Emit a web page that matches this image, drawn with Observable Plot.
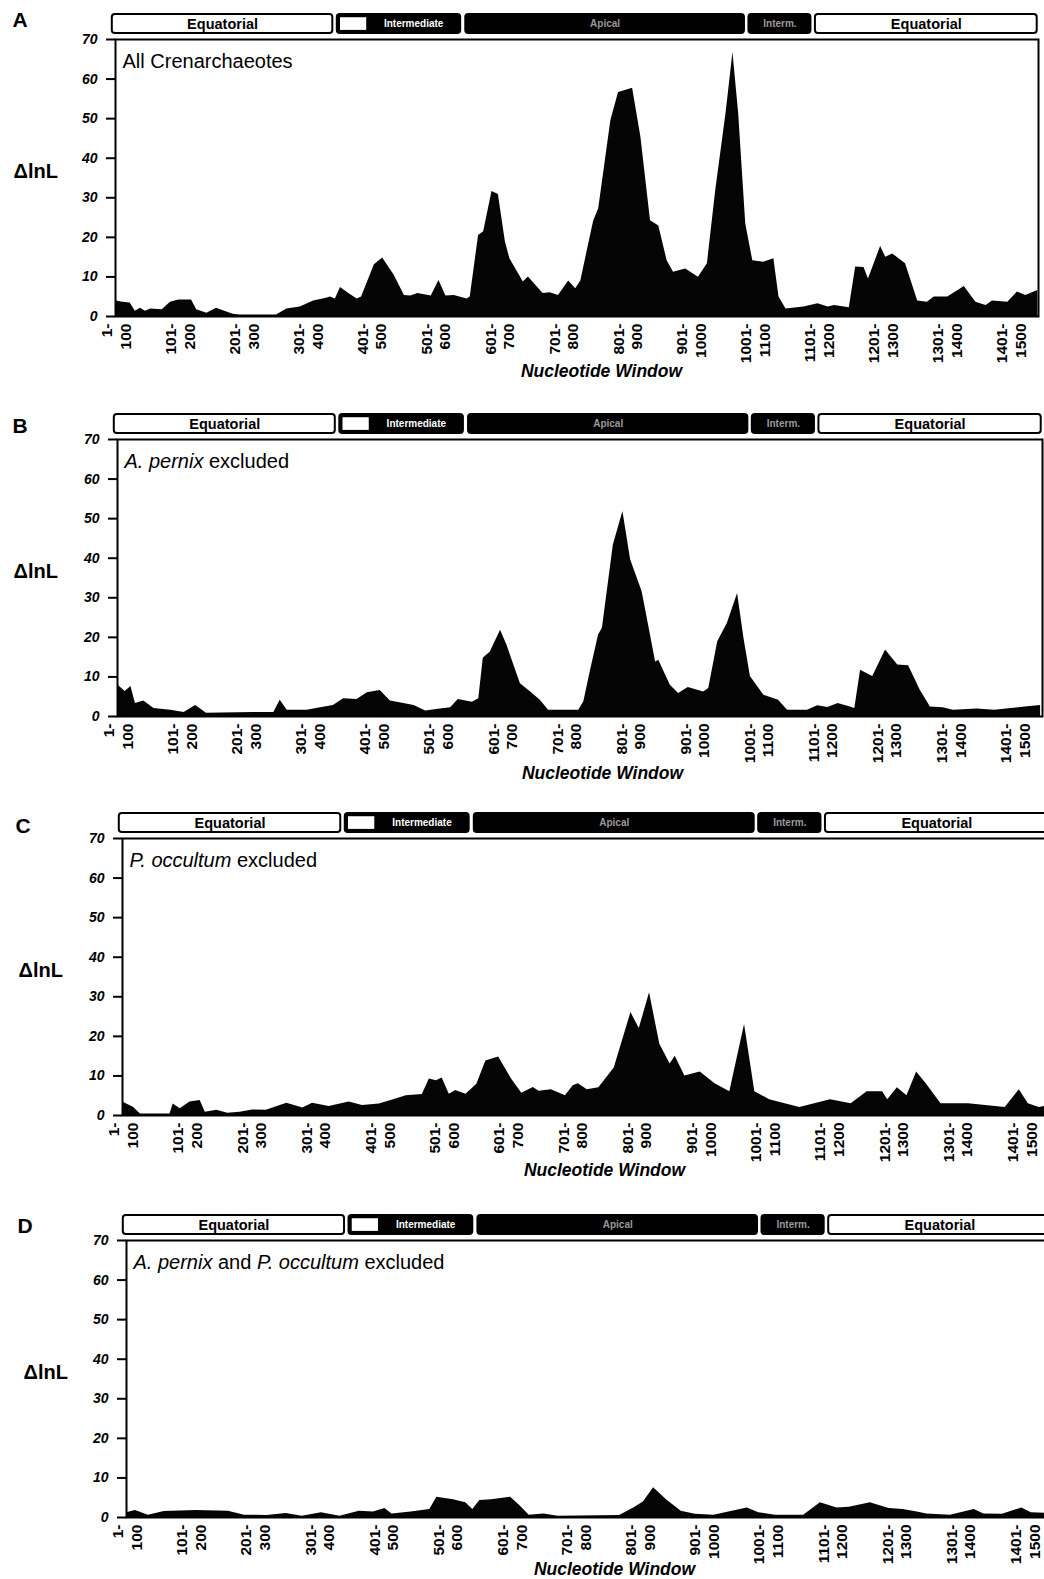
<!DOCTYPE html>
<html><head><meta charset="utf-8">
<script src="https://cdn.jsdelivr.net/npm/d3@7"></script>
<script src="https://cdn.jsdelivr.net/npm/@observablehq/plot@0.6"></script>
<style>
html,body{margin:0;padding:0;background:#fff;overflow:hidden;}
#fig{position:relative;width:1044px;height:1579px;overflow:hidden;background:#fff;}
#fig svg{position:absolute;left:0;overflow:visible;max-width:none !important;}
#fig g[aria-label="y-axis tick label"] text{font-style:italic;}
</style></head><body><div id="fig"></div>
<script>
// ---- data (window start nucleotide, ΔlnL) ----
const ntA = [1,12,24,32,40,48,56,74,87,100,120,128,144,159,185,196,253,269,290,311,331,337,345,353,366,379,386,406,419,437,453,463,474,495,507,518,531,551,556,569,577,590,600,611,618,639,647,670,681,694,710,721,729,749,757,776,788,810,823,838,851,864,874,893,913,927,940,956,967,976,987,998,1015,1031,1039,1050,1078,1100,1116,1126,1149,1159,1172,1179,1198,1206,1217,1237,1256,1271,1282,1303,1329,1347,1363,1373,1397,1412,1425,1444];
const dlnlA = [4.0,3.6,3.4,1.3,2.1,1.3,1.9,1.7,3.6,4.2,4.2,1.7,0.8,2.1,0.6,0.4,0.4,1.9,2.4,3.9,4.6,4.9,4.4,7.3,5.8,4.4,4.9,13.1,14.8,10.4,5.3,5.2,5.8,5.2,9.1,5.2,5.3,4.4,4.9,20.5,21.4,31.6,30.8,18.8,14.6,8.7,10.0,5.8,6.0,5.3,9.0,7.0,9.0,24.1,27.2,49.5,56.6,57.7,45.3,24.2,22.9,14.1,11.2,12.0,9.9,13.3,31.8,51.1,66.7,51.1,23.4,14.1,13.7,14.6,4.9,1.9,2.4,3.2,2.4,2.8,2.2,12.5,12.4,9.5,17.7,15.0,15.8,13.3,3.9,3.6,4.9,4.9,7.6,3.6,2.8,3.9,3.6,6.2,5.3,6.6];

const ntB = [1,13,22,29,42,58,84,105,123,140,213,245,255,266,297,318,338,354,375,391,411,427,448,464,482,505,521,533,555,565,572,583,599,609,630,646,661,674,721,729,739,752,758,775,790,802,820,830,841,846,864,877,892,916,924,938,953,969,979,989,1010,1033,1047,1078,1094,1110,1126,1145,1152,1161,1180,1200,1219,1236,1254,1270,1290,1306,1343,1370,1418,1442];
const dlnlB = [8.0,6.3,7.6,3.3,3.9,2.0,1.6,1.0,2.8,0.8,1.0,1.0,4.1,1.6,1.6,2.2,2.8,4.5,4.3,6.0,6.6,3.9,3.3,2.8,1.4,1.9,2.2,4.3,3.6,4.5,14.7,16.3,21.8,18.0,8.3,6.2,4.1,1.6,1.6,3.7,11.3,20.6,22.3,43.3,51.8,39.6,31.5,23.1,13.8,14.2,7.9,5.8,7.3,6.2,7.1,18.9,23.5,31.1,19.7,10.1,5.4,4.1,1.6,1.6,2.7,2.3,3.3,2.4,2.0,11.7,10.1,16.8,13.0,12.8,6.7,2.4,2.2,1.6,1.9,1.6,2.4,2.8];

const ntC = [1,18,29,75,80,91,106,122,130,148,165,184,204,225,257,282,297,323,354,375,401,422,443,468,479,490,499,510,520,536,553,567,587,607,623,641,650,669,691,703,711,725,743,767,793,806,822,838,854,862,877,901,924,947,970,986,1009,1056,1104,1136,1161,1185,1193,1208,1223,1238,1253,1276,1319,1376,1398,1412,1429,1445];
const dlnlC = [3.4,2.1,0.4,0.4,2.9,1.7,3.4,3.8,0.8,1.3,0.6,0.8,1.4,1.3,3.1,1.9,3.1,2.3,3.4,2.5,2.9,3.9,5.0,5.3,9.2,8.8,9.5,5.4,6.3,5.4,7.9,13.8,14.8,9.2,5.6,7.1,6.1,6.5,5.0,7.5,8.0,6.5,7.0,12.0,26.0,22.0,31.0,18.0,13.0,15.0,10.0,11.0,8.0,6.0,23.0,6.0,4.0,2.0,4.0,3.0,6.0,6.0,4.0,7.0,5.0,11.0,8.0,3.0,3.0,2.0,6.5,3.0,2.0,2.5];

const ntD = [1,15,35,60,110,160,185,220,250,275,305,334,364,386,404,415,445,474,485,511,530,541,552,570,600,615,629,652,674,770,792,807,823,843,866,888,917,969,987,1013,1057,1083,1109,1128,1161,1190,1212,1234,1249,1286,1323,1338,1367,1397,1412,1445];
const dlnlD = [1.2,1.8,0.6,1.5,1.8,1.6,0.6,0.5,1.0,0.3,1.2,0.3,1.6,1.4,2.3,0.9,1.4,2.0,5.1,4.5,3.7,2.0,4.3,4.5,5.1,2.9,0.6,0.9,0.3,0.5,2.4,3.9,7.5,4.5,1.6,0.8,0.6,2.4,1.2,0.6,0.6,3.7,2.4,2.6,3.7,2.3,2.0,1.4,0.9,0.6,2.0,0.9,0.8,2.4,1.2,1.0];

// ---- axes / labels ----
const yTicks = [0,10,20,30,40,50,60,70];
const xTicks = [1,101,201,301,401,501,601,701,801,901,1001,1101,1201,1301,1401];
const xTickLabels = ["1-\n100","101-\n200","201-\n300","301-\n400","401-\n500","501-\n600","601-\n700","701-\n800","801-\n900","901-\n1000","1001-\n1100","1101-\n1200","1201-\n1300","1301-\n1400","1401-\n1500"];

// ---- structural domains (nucleotide ranges) ----
const domainNames = ["Equatorial","Intermediate","Apical","Interm.","Equatorial"];
const domainStart = [-4,348,549,992,1096];
const domainEnd   = [341,541,985,1089,1443];
const insetStart = [353];
const insetEnd = [394];

const titleA = [["All Crenarchaeotes", false]];
const titleB = [["A. pernix", true], [" excluded", false]];
const titleC = [["P. occultum", true], [" excluded", false]];
const titleD = [["A. pernix", true], [" and ", false], ["P. occultum", true], [" excluded", false]];

const panels = [
  {letter:"A", nt:ntA, v:dlnlA, title:titleA, top:0,    height:400, width:1044, ml:115, mr:6, letterX:12, letterDy:-19, ylabX:13, xlabCx:601, xlabDy:55},
  {letter:"B", nt:ntB, v:dlnlB, title:titleB, top:400,  height:400, width:1044, ml:117, mr:2, letterX:12, letterDy:-13, ylabX:13, xlabCx:602, xlabDy:57},
  {letter:"C", nt:ntC, v:dlnlC, title:titleC, top:799,  height:400, width:1052, ml:122, mr:3, letterX:15, letterDy:-12, ylabX:18, xlabCx:604, xlabDy:55},
  {letter:"D", nt:ntD, v:dlnlD, title:titleD, top:1201, height:378, width:1054, ml:126, mr:2, letterX:17, letterDy:-14, ylabX:23, xlabCx:614, xlabDy:52}
];

const FONT = '"Liberation Sans", Arial, Helvetica, sans-serif';
const fig = document.getElementById("fig");

const doms = domainNames.map((name, i) => ({name, start: domainStart[i], end: domainEnd[i]}));
const lightDoms = doms.filter(d => d.name === "Equatorial");
const darkDoms = doms.filter(d => d.name !== "Equatorial");
const insets = insetStart.map((s, i) => ({start: s, end: insetEnd[i]}));

for (const p of panels) {
  const data = p.nt.map((n, i) => ({nt: n, v: p.v[i]}));
  const marginTop = 39, frameBottom = 316;
  const fullTitle = p.title.map(s => s[0]).join("");
  const frameCx = p.ml + (p.width - p.ml - p.mr) / 2;
  const plot = Plot.plot({
    width: p.width,
    height: p.height,
    marginLeft: p.ml,
    marginRight: p.mr,
    marginTop,
    marginBottom: p.height - frameBottom,
    style: {fontFamily: FONT, color: "#000", background: "#fff", maxWidth: "none", overflow: "visible"},
    x: {domain: [1, 1445]},
    y: {domain: [0, 70]},
    marks: [
      Plot.areaY(data, {x: "nt", y: "v", fill: "#050505", curve: "linear"}),
      Plot.frame({stroke: "#000", strokeWidth: 2}),
      Plot.axisY({ticks: yTicks, tickSize: 9, tickPadding: 9, strokeWidth: 2, fontSize: 14, fontWeight: "bold", fontStyle: "italic", label: null}),
      Plot.axisX({ticks: xTicks, tickFormat: d => xTickLabels[xTicks.indexOf(d)], tickRotate: -90, tickSize: 0, tickPadding: 7, fontSize: 15.5, fontWeight: "bold", lineHeight: 1.2, label: null}),
      // domain bars
      Plot.rect(lightDoms, {x1: "start", x2: "end", y1: 71.5, y2: 76.3, fill: "#fff", stroke: "#000", strokeWidth: 2, rx: 3}),
      Plot.rect(darkDoms, {x1: "start", x2: "end", y1: 71.5, y2: 76.3, fill: "#000", stroke: "#000", strokeWidth: 2, rx: 3}),
      Plot.rect(insets, {x1: "start", x2: "end", y1: 72.3, y2: 75.5, fill: "#fff", stroke: "none"}),
      Plot.text(lightDoms, {x: d => (d.start + d.end) / 2, y: 73.9, text: "name", fill: "#000", fontSize: 14.5, fontWeight: "bold"}),
      Plot.text(darkDoms.filter(d => d.name === "Intermediate"), {x: d => (insetEnd[0] + d.end) / 2, y: 73.9, text: "name", fill: "#fff", fontSize: 10, fontWeight: "bold"}),
      Plot.text(darkDoms.filter(d => d.name !== "Intermediate"), {x: d => (d.start + d.end) / 2, y: 73.9, text: "name", fill: "#9a9a9a", fontSize: 10, fontWeight: "bold"}),
      // panel title inside frame
      Plot.text([fullTitle], {frameAnchor: "top-left", dx: 7, dy: 14, lineAnchor: "top", textAnchor: "start", text: d => d, fontSize: 20, fill: "#000"}),
      // panel letter
      Plot.text([p.letter], {frameAnchor: "top-left", dx: p.letterX - p.ml, dy: p.letterDy, lineAnchor: "middle", textAnchor: "start", text: d => d, fontSize: 21, fontWeight: "bold", fill: "#000"}),
      // y label
      Plot.text(["\u0394lnL"], {frameAnchor: "top-left", dx: p.ylabX - p.ml, dy: 132, lineAnchor: "middle", textAnchor: "start", text: d => d, fontSize: 20, fontWeight: "bold", fill: "#000"}),
      // x label
      Plot.text(["Nucleotide Window"], {frameAnchor: "bottom", dx: p.xlabCx - frameCx, dy: p.xlabDy, lineAnchor: "middle", text: d => d, fontSize: 17.5, fontWeight: "bold", fontStyle: "italic", fill: "#000"})
    ]
  });
  plot.style.top = p.top + "px";
  plot.style.left = "0px";
  plot.style.position = "absolute";
  // mixed italic / roman title
  const t = Array.from(plot.querySelectorAll("text")).find(e => e.textContent === fullTitle);
  if (t) {
    t.textContent = "";
    for (const [s, it] of p.title) {
      const ts = document.createElementNS("http://www.w3.org/2000/svg", "tspan");
      ts.textContent = s;
      ts.setAttribute("font-style", it ? "italic" : "normal");
      t.appendChild(ts);
    }
    t.setAttribute("style", "white-space:pre");
  }
  fig.appendChild(plot);
}
</script>
</body></html>
